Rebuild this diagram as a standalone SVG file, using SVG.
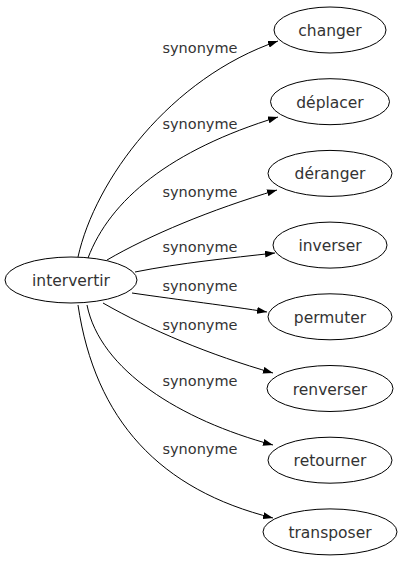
<svg xmlns="http://www.w3.org/2000/svg" width="403" height="563" viewBox="0 0 403 563">
<defs>
<style>
.node ellipse{fill:#fff;stroke:#000;stroke-width:1}
.node text{font-family:"DejaVu Sans",sans-serif;font-size:15.5px;fill:#333;text-anchor:middle}
.edges path{fill:none;stroke:#000;stroke-width:1;marker-end:url(#arr)}
.edges text{font-family:"DejaVu Sans",sans-serif;font-size:14.5px;fill:#333;text-anchor:middle}
</style>
<marker id="arr" viewBox="0 0 10 7" refX="10" refY="3.5" markerWidth="10" markerHeight="7" markerUnits="userSpaceOnUse" orient="auto">
<path d="M0,0 L10,3.5 L0,7 z" fill="#000"/>
</marker>
</defs>
<rect width="403" height="563" fill="#fff"/>
<g id="edges" class="edges">
<path d="M78,257 C95,180 170,78 278,41"/>
<path d="M88,258 C110,200 170,150 278,117"/>
<path d="M107,260 C150,235 210,210 277,190"/>
<path d="M135,272 C180,263 230,258 275,253"/>
<path d="M132,293 C180,300 230,306 267,312"/>
<path d="M103,303 C150,330 210,355 273,373"/>
<path d="M87,305 C100,370 180,420 273,445"/>
<path d="M78,305 C95,420 160,490 273,518"/>
<text x="200" y="53">synonyme</text>
<text x="200" y="129">synonyme</text>
<text x="200" y="197">synonyme</text>
<text x="200" y="252">synonyme</text>
<text x="200" y="291">synonyme</text>
<text x="200" y="330">synonyme</text>
<text x="200" y="386">synonyme</text>
<text x="200" y="454">synonyme</text>
</g>
<g id="intervertir" class="node"><ellipse cx="71" cy="280" rx="66" ry="23"/><text x="71" y="286">intervertir</text></g>
<g id="changer" class="node"><ellipse cx="330" cy="30" rx="56" ry="23"/><text x="330" y="36">changer</text></g>
<g id="deplacer" class="node"><ellipse cx="330" cy="101.7" rx="59.5" ry="23"/><text x="330" y="107.7">déplacer</text></g>
<g id="deranger" class="node"><ellipse cx="330" cy="173.4" rx="62" ry="23"/><text x="330" y="179.4">déranger</text></g>
<g id="inverser" class="node"><ellipse cx="330" cy="245.1" rx="57" ry="23"/><text x="330" y="251.1">inverser</text></g>
<g id="permuter" class="node"><ellipse cx="330" cy="316.8" rx="62" ry="23"/><text x="330" y="322.8">permuter</text></g>
<g id="renverser" class="node"><ellipse cx="330" cy="388.5" rx="63" ry="23"/><text x="330" y="394.5">renverser</text></g>
<g id="retourner" class="node"><ellipse cx="330" cy="460.2" rx="62" ry="23"/><text x="330" y="466.2">retourner</text></g>
<g id="transposer" class="node"><ellipse cx="330" cy="531.9" rx="67" ry="23"/><text x="330" y="537.9">transposer</text></g>
</svg>
